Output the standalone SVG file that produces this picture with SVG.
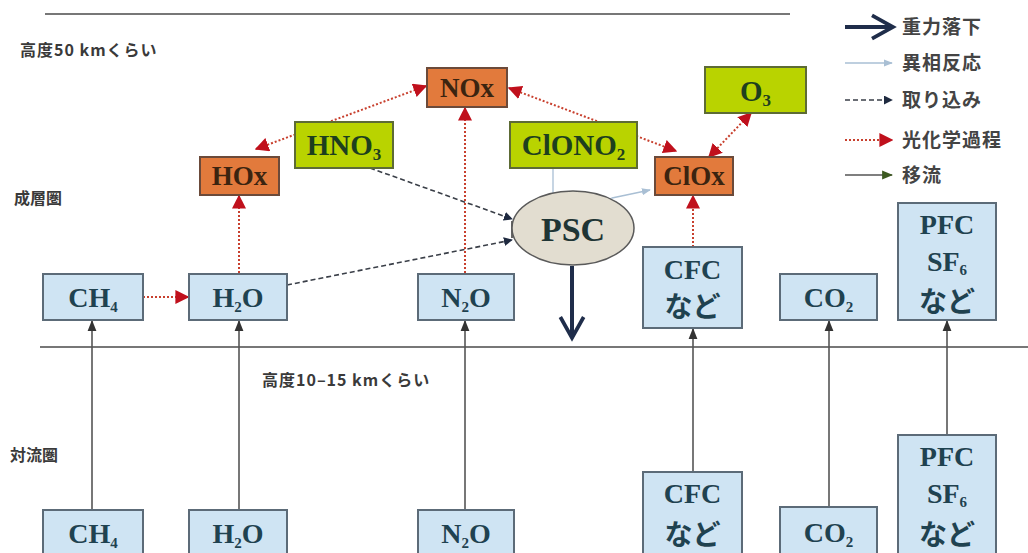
<svg xmlns="http://www.w3.org/2000/svg" width="1028" height="553" viewBox="0 0 1028 553">
<defs>
<style>
.jp{font-family:"Noto Sans CJK JP","Noto Sans",sans-serif;font-size:16px;fill:#3a3a3a;font-weight:bold}
.lg{font-family:"Noto Sans CJK JP","Noto Sans",sans-serif;font-size:19px;fill:#444;font-weight:bold;letter-spacing:1px}
.chem{font-family:"Liberation Serif","Noto Sans CJK JP",serif;font-weight:bold;text-anchor:middle}
.nado{font-family:"Noto Sans CJK JP",sans-serif;font-weight:bold;font-size:24px}
.blue rect{fill:#cfe4f3;stroke:#5c6b78;stroke-width:2}
.orange rect{fill:#e27a3c;stroke:#6b4a3a;stroke-width:2}
.green rect{fill:#b9d300;stroke:#5d6b35;stroke-width:2}
.tb{fill:#1f4250;font-size:28px}
.to{fill:#3b2410;font-size:27px}
.tg{fill:#1d3f1e;font-size:29px}
.photo{stroke:#c8402e;stroke-width:2;stroke-dasharray:2 2;fill:none}
.take{stroke:#3a3f48;stroke-width:1.6;stroke-dasharray:5 3;fill:none}
.adv{stroke:#555;stroke-width:1.6;fill:none}
.het{stroke:#a9bfd4;stroke-width:1.3;fill:none}
.grav{stroke:#1f2d4a;stroke-width:4;fill:none}
.ln{stroke:#777;stroke-width:2}
</style>
<marker id="mr2" viewBox="0 0 10 10" refX="9" refY="5" markerWidth="14" markerHeight="14" orient="auto-start-reverse" markerUnits="userSpaceOnUse"><path d="M0,0 L10,5 L0,10 z" fill="#c0101c"/></marker>
<marker id="mt" viewBox="0 0 10 10" refX="9" refY="5" markerWidth="9" markerHeight="9" orient="auto" markerUnits="userSpaceOnUse"><path d="M0,0 L10,5 L0,10 z" fill="#1f2a40"/></marker>
<marker id="ma" viewBox="0 0 10 10" refX="9" refY="5" markerWidth="11" markerHeight="11" orient="auto" markerUnits="userSpaceOnUse"><path d="M0,1 L10,5 L0,9 z" fill="#333"/></marker>
<marker id="mag" viewBox="0 0 10 10" refX="9" refY="5" markerWidth="11" markerHeight="11" orient="auto" markerUnits="userSpaceOnUse"><path d="M0,1 L10,5 L0,9 z" fill="#3d5a20"/></marker>
<marker id="mh" viewBox="0 0 10 10" refX="9" refY="5" markerWidth="9" markerHeight="9" orient="auto" markerUnits="userSpaceOnUse"><path d="M0,1 L10,5 L0,9 z" fill="#a9bfd4"/></marker>
<marker id="mg" viewBox="0 0 12 12" refX="10" refY="6" markerWidth="28" markerHeight="28" orient="auto" markerUnits="userSpaceOnUse"><path d="M1,1 L10,6 L1,11" fill="none" stroke="#1f2d4a" stroke-width="1.6"/></marker>
</defs>
<rect width="1028" height="553" fill="#fff"/>

<g id="levels">
<line class="ln" x1="45" y1="14" x2="790" y2="14"/>
<line class="ln" x1="40" y1="347" x2="1028" y2="347"/>
<text class="jp" x="20" y="56" letter-spacing="1">高度50 kmくらい</text>
<text class="jp" x="14" y="204" font-size="18">成層圏</text>
<text class="jp" x="262" y="386" letter-spacing="1">高度10–15 kmくらい</text>
<text class="jp" x="10" y="461" font-size="18">対流圏</text>
</g>

<g id="legend">
<line class="grav" x1="845" y1="27" x2="893" y2="27" marker-end="url(#mg)"/>
<text class="lg" x="902" y="34">重力落下</text>
<line class="het" x1="845" y1="63" x2="892" y2="63" marker-end="url(#mh)"/>
<text class="lg" x="902" y="70">異相反応</text>
<line class="take" x1="845" y1="100" x2="892" y2="100" marker-end="url(#mt)"/>
<text class="lg" x="902" y="107">取り込み</text>
<line class="photo" x1="845" y1="140" x2="892" y2="140" marker-end="url(#mr2)"/>
<text class="lg" x="902" y="147">光化学過程</text>
<line class="adv" x1="845" y1="175" x2="892" y2="175" stroke="#3d4a30" marker-end="url(#mag)"/>
<text class="lg" x="902" y="182">移流</text>
</g>

<g id="connectors">
<line class="adv" x1="92" y1="510" x2="92" y2="321" marker-end="url(#ma)"/>
<line class="adv" x1="239" y1="510" x2="239" y2="321" marker-end="url(#ma)"/>
<line class="adv" x1="465" y1="510" x2="465" y2="321" marker-end="url(#ma)"/>
<line class="adv" x1="693" y1="472" x2="693" y2="329" marker-end="url(#ma)"/>
<line class="adv" x1="829" y1="507" x2="829" y2="321" marker-end="url(#ma)"/>
<line class="adv" x1="947" y1="435" x2="947" y2="321" marker-end="url(#ma)"/>
<line class="photo" x1="143" y1="297" x2="188" y2="297" marker-end="url(#mr2)"/>
<line class="photo" x1="239" y1="273" x2="239" y2="196" marker-end="url(#mr2)"/>
<line class="photo" x1="465" y1="273" x2="465" y2="108" marker-end="url(#mr2)"/>
<line class="photo" x1="693" y1="247" x2="693" y2="196" marker-end="url(#mr2)"/>
<line class="photo" x1="256" y1="149" x2="426" y2="86" marker-start="url(#mr2)" marker-end="url(#mr2)"/>
<line class="photo" x1="509" y1="88" x2="676" y2="151" marker-start="url(#mr2)" marker-end="url(#mr2)"/>
<line class="photo" x1="709" y1="157" x2="751" y2="113" marker-start="url(#mr2)" marker-end="url(#mr2)"/>
<line class="take" x1="370" y1="168" x2="512" y2="219" marker-end="url(#mt)"/>
<line class="take" x1="287" y1="285" x2="512" y2="240" marker-end="url(#mt)"/>
<line x1="512" y1="221" x2="512" y2="238" stroke="#333" stroke-width="1.5"/>
<path class="het" d="M553,168 V196 C562,206 590,206 612,198 L650,190" marker-end="url(#mh)"/>
<line class="grav" x1="572" y1="266" x2="572" y2="338" marker-end="url(#mg)"/>
</g>

<g id="HOx" class="orange"><rect x="200" y="157" width="79" height="38"/><text class="chem to" x="239.5" y="185">HOx</text></g>
<g id="NOx" class="orange"><rect x="427" y="68" width="80" height="39"/><text class="chem to" x="467" y="97">NOx</text></g>
<g id="ClOx" class="orange"><rect x="655" y="157" width="78" height="38"/><text class="chem to" x="694" y="185">ClOx</text></g>
<g id="HNO3" class="green"><rect x="295" y="122" width="98" height="46"/><text class="chem tg" x="344" y="155">HNO<tspan font-size="17" dy="5">3</tspan></text></g>
<g id="ClONO2" class="green"><rect x="510" y="122" width="127" height="46"/><text class="chem tg" x="573.5" y="155">ClONO<tspan font-size="17" dy="5">2</tspan></text></g>
<g id="O3" class="green"><rect x="705" y="67" width="101" height="46"/><text class="chem tg" x="755.5" y="101">O<tspan font-size="17" dy="5">3</tspan></text></g>
<g id="PSC"><ellipse cx="573" cy="228" rx="61" ry="37" fill="#e2ddd0" stroke="#5a5a5a" stroke-width="1.5"/><text class="chem" x="573" y="241" font-size="34" fill="#1f3535">PSC</text></g>

<g id="CH4-upper" class="blue"><rect x="43" y="274" width="100" height="46"/><text class="chem tb" x="93" y="307">CH<tspan font-size="15" dy="5">4</tspan></text></g>
<g id="H2O-upper" class="blue"><rect x="189" y="274" width="98" height="46"/><text class="chem tb" x="238" y="307">H<tspan font-size="15" dy="5">2</tspan><tspan dy="-5">O</tspan></text></g>
<g id="N2O-upper" class="blue"><rect x="418" y="274" width="96" height="46"/><text class="chem tb" x="466" y="307">N<tspan font-size="15" dy="5">2</tspan><tspan dy="-5">O</tspan></text></g>
<g id="CFC-upper" class="blue"><rect x="643" y="247" width="99" height="81"/><text class="chem tb" x="692.5" y="279">CFC</text><text class="chem tb nado" x="692.5" y="317">など</text></g>
<g id="CO2-upper" class="blue"><rect x="780" y="274" width="97" height="46"/><text class="chem tb" x="828.5" y="307">CO<tspan font-size="15" dy="5">2</tspan></text></g>
<g id="PFC-upper" class="blue"><rect x="898" y="203" width="98" height="117"/><text class="chem tb" x="947" y="234">PFC</text><text class="chem tb" x="947" y="271">SF<tspan font-size="15" dy="4">6</tspan></text><text class="chem tb nado" x="947" y="312">など</text></g>

<g id="CH4-lower" class="blue"><rect x="43" y="510" width="100" height="46"/><text class="chem tb" x="93" y="543">CH<tspan font-size="15" dy="5">4</tspan></text></g>
<g id="H2O-lower" class="blue"><rect x="189" y="510" width="98" height="46"/><text class="chem tb" x="238" y="543">H<tspan font-size="15" dy="5">2</tspan><tspan dy="-5">O</tspan></text></g>
<g id="N2O-lower" class="blue"><rect x="418" y="510" width="96" height="46"/><text class="chem tb" x="466" y="543">N<tspan font-size="15" dy="5">2</tspan><tspan dy="-5">O</tspan></text></g>
<g id="CFC-lower" class="blue"><rect x="643" y="472" width="99" height="84"/><text class="chem tb" x="692.5" y="503">CFC</text><text class="chem tb nado" x="692.5" y="545">など</text></g>
<g id="CO2-lower" class="blue"><rect x="780" y="507" width="97" height="49"/><text class="chem tb" x="828.5" y="542">CO<tspan font-size="15" dy="5">2</tspan></text></g>
<g id="PFC-lower" class="blue"><rect x="898" y="435" width="98" height="121"/><text class="chem tb" x="947" y="466">PFC</text><text class="chem tb" x="947" y="503">SF<tspan font-size="15" dy="4">6</tspan></text><text class="chem tb nado" x="947" y="545">など</text></g>
</svg>
